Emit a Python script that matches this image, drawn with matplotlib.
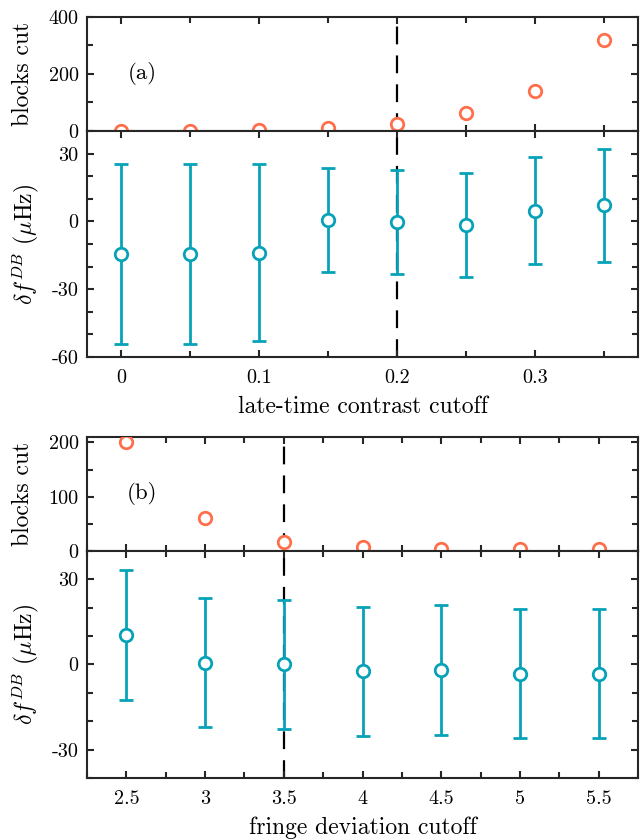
import numpy as np
import matplotlib
matplotlib.use("Agg")
import matplotlib.pyplot as plt
from matplotlib.ticker import MultipleLocator

plt.rcParams['font.family'] = 'serif'
plt.rcParams['font.serif'] = ['cmr10']
plt.rcParams['mathtext.fontset'] = 'cm'
plt.rcParams['axes.unicode_minus'] = False
plt.rcParams['axes.formatter.use_mathtext'] = False

orange = '#FF6F4B'
teal = '#08A2B8'

# (a) late-time contrast cutoff
cut_a = [0, 0.05, 0.1, 0.15, 0.2, 0.25, 0.3, 0.35]
blocks_a = [0, 0, 2, 10, 25, 63, 141, 319]
df_a = [-14.4, -14.5, -13.8, 0.6, -0.1, -1.6, 4.8, 7.1]
err_a = [39.7, 39.7, 39.2, 23.0, 23.0, 23.2, 23.6, 25.0]
chosen_a = 0.2

# (b) fringe deviation cutoff
cut_b = [2.5, 3, 3.5, 4, 4.5, 5, 5.5]
blocks_b = [200, 61, 17, 7, 4, 3, 3]
df_b = [10.4, 0.6, 0.0, -2.4, -1.9, -3.3, -3.3]
err_b = [23.0, 22.7, 22.6, 22.8, 22.9, 22.7, 22.7]
chosen_b = 3.5

fig = plt.figure(figsize=(6.44, 8.39), dpi=100)

L, W = 0.1351, 0.8556
ax1 = fig.add_axes([L, 0.8439, W, 0.1359])
ax2 = fig.add_axes([L, 0.5745, W, 0.2694])
ax3 = fig.add_axes([L, 0.3433, W, 0.1359])
ax4 = fig.add_axes([L, 0.0727, W, 0.2706])

dash = (0, (8, 5))


def style(ax):
    for s in ax.spines.values():
        s.set_linewidth(1.5)
        s.set_color('#262626')
    ax.tick_params(which='both', direction='in', top=True, right=True,
                   width=1.5, color='#262626', labelsize=14.5)
    ax.tick_params(which='major', length=5)
    ax.tick_params(which='minor', length=4)
    ax.tick_params(axis='x', pad=9)
    ax.tick_params(axis='y', pad=6)


def blocks(ax, x, y, chosen, ylim, major, label, xlim, xmaj):
    ax.axvline(chosen, color='k', ls=dash, lw=1.6, zorder=1)
    ax.plot(x, y, 'o', mfc='white', mec=orange, mew=2, ms=9, zorder=3)
    ax.set_xlim(xlim)
    ax.set_ylim(ylim)
    ax.xaxis.set_major_locator(MultipleLocator(xmaj))
    ax.xaxis.set_minor_locator(MultipleLocator(xmaj / 2))
    ax.yaxis.set_major_locator(MultipleLocator(major))
    ax.yaxis.set_minor_locator(MultipleLocator(major / 2))
    ax.set_xticklabels([])
    ax.set_ylabel('blocks cut', fontsize=17, va='center')
    ax.yaxis.set_label_coords(-0.117, 0.5)
    ax.text(0.1, 0.5, label, transform=ax.transAxes, fontsize=16.5,
            ha='center', va='center')
    style(ax)


def shifts(ax, x, y, e, chosen, ylim, xlim, xmaj, xlabel, xfmt):
    ax.axvline(chosen, color='k', ls=dash, lw=1.6, zorder=1)
    ax.errorbar(x, y, yerr=e, fmt='o', color=teal, mfc='white', mec=teal,
                mew=2, ms=9, elinewidth=2, capsize=5, capthick=2, zorder=3)
    ax.set_xlim(xlim)
    ax.set_ylim(ylim)
    ax.xaxis.set_major_locator(MultipleLocator(xmaj))
    ax.xaxis.set_minor_locator(MultipleLocator(xmaj / 2))
    ax.yaxis.set_major_locator(MultipleLocator(30))
    ax.yaxis.set_minor_locator(MultipleLocator(10))
    ax.xaxis.set_major_formatter(plt.FuncFormatter(xfmt))
    ax.yaxis.set_major_formatter(plt.FuncFormatter(lambda v, p: '%d' % v))
    ax.set_ylabel(r'$\delta f^{DB}$ ($\mu$Hz)', fontsize=17, va='center')
    ax.yaxis.set_label_coords(-0.109, 0.5)
    ax.set_xlabel(xlabel, fontsize=17, va='center')
    ax.xaxis.set_label_coords(0.5, -0.221)
    style(ax)


def fmt_a(v, p):
    return '0' if abs(v) < 1e-9 else ('%.1f' % v)


def fmt_b(v, p):
    return ('%d' % round(v)) if abs(v - round(v)) < 1e-9 else ('%.1f' % v)


blocks(ax1, cut_a, blocks_a, chosen_a, (0, 400), 200, '(a)', (-0.025, 0.375), 0.1)
shifts(ax2, cut_a, df_a, err_a, chosen_a, (-60, 40), (-0.025, 0.375), 0.1,
       'late-time contrast cutoff', fmt_a)
blocks(ax3, cut_b, blocks_b, chosen_b, (0, 210), 100, '(b)', (2.25, 5.75), 0.5)
shifts(ax4, cut_b, df_b, err_b, chosen_b, (-40, 40), (2.25, 5.75), 0.5,
       'fringe deviation cutoff', fmt_b)

fig.savefig('out.png', dpi=100)
